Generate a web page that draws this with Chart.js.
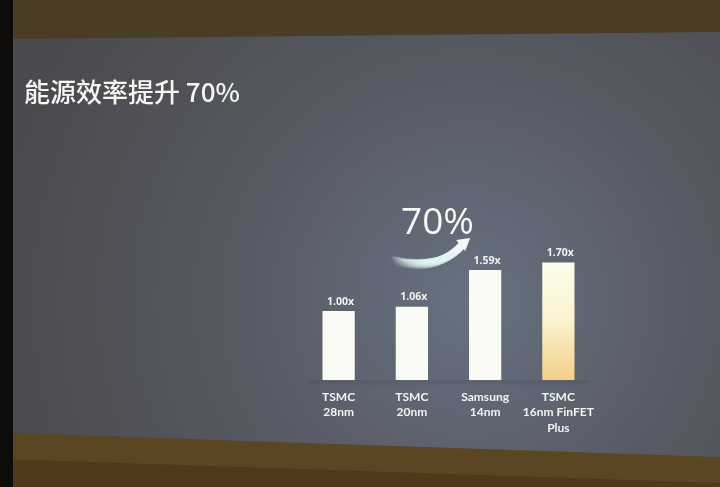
<!DOCTYPE html>
<html>
<head>
<meta charset="utf-8">
<title>能源效率提升 70%</title>
<script src="https://cdn.jsdelivr.net/npm/chart.js@4.4.0/dist/chart.umd.min.js"></script>
<style>
    html, body { margin: 0; padding: 0; background: #3f3424; }
    .chart-container { width: 720px; height: 487px; position: relative; }
</style>
</head>
<body>
<div class="chart-container">
    <canvas id="efficiencyChart"></canvas>
</div>
<script>
// --- Chart data ---
const slideTitle = '能源效率提升 70%';
const gainLabel = '70%';
const processNames = [
    ['TSMC', '28nm'],
    ['TSMC', '20nm'],
    ['Samsung', '14nm'],
    ['TSMC', '16nm FinFET', 'Plus']
];
const efficiency = [1.00, 1.06, 1.59, 1.70];
const valueLabels = ['1.00x', '1.06x', '1.59x', '1.70x'];

const ctx = document.getElementById('efficiencyChart').getContext('2d');

// --- Projected slide background (screen + frame around it) ---
const slideBackground = {
    id: 'slideBackground',
    beforeDraw(chart) {
        const c = chart.ctx;
        const w = chart.width, h = chart.height;
        c.save();
        // room / frame
        c.fillStyle = '#4a3d26';
        c.fillRect(0, 0, w, h);
        // bottom wall bands
        c.fillStyle = '#5a4623';
        c.beginPath();
        c.moveTo(0, 432); c.lineTo(w, 456); c.lineTo(w, h); c.lineTo(0, h);
        c.fill();
        c.fillStyle = '#4d3a1a';
        c.beginPath();
        c.moveTo(0, 459); c.lineTo(w, 483); c.lineTo(w, h); c.lineTo(0, h);
        c.fill();
        // black strip on the left
        c.fillStyle = '#0e0c0b';
        c.fillRect(0, 0, 13, h);

        // screen
        const g = c.createRadialGradient(470, 300, 10, 470, 300, 470);
        g.addColorStop(0, '#66707f');
        g.addColorStop(0.45, '#585b65');
        g.addColorStop(1, '#4b4a4e');
        c.fillStyle = g;
        c.beginPath();
        c.moveTo(13, 39);
        c.lineTo(w, 32);
        c.lineTo(w, 457);
        c.lineTo(13, 433);
        c.closePath();
        c.fill();

        // soft shadow under the bars
        const a = chart.chartArea;
        const sg = c.createLinearGradient(0, a.bottom, 0, a.bottom + 7);
        sg.addColorStop(0, 'rgba(50,55,65,0.18)');
        sg.addColorStop(1, 'rgba(50,55,65,0)');
        c.fillStyle = sg;
        c.fillRect(a.left + 5, a.bottom, a.right - a.left - 10, 7);

        // slide title
        c.fillStyle = '#f4f6f2';
        c.font = '500 26px "Noto Sans CJK TC", "Noto Sans CJK SC", sans-serif';
        c.textBaseline = 'alphabetic';
        c.textAlign = 'left';
        c.fillText(slideTitle, 24, 102);
        c.restore();
    }
};

// --- Value labels, growth arrow and 70% annotation ---
const annotations = {
    id: 'annotations',
    afterDatasetsDraw(chart) {
        const c = chart.ctx;
        const meta = chart.getDatasetMeta(0);
        c.save();
        c.fillStyle = '#f2f2f0';
        c.font = 'bold 10.5px "Open Sans", sans-serif';
        c.textAlign = 'center';
        c.textBaseline = 'bottom';
        meta.data.forEach((bar, i) => {
            c.fillText(valueLabels[i], bar.x + 2, bar.y - 4);
        });

        // curved arrow from the 20nm bar to the 14nm bar
        const b1 = meta.data[1], b2 = meta.data[2];
        const x0 = b1.x - 20, y0 = b1.y - 46;
        const x1 = b2.x - 17, y1 = b2.y - 31;
        const ag = c.createLinearGradient(x0, y0, x1, y1);
        ag.addColorStop(0, 'rgba(220,240,235,0)');
        ag.addColorStop(0.6, 'rgba(225,245,240,0.8)');
        ag.addColorStop(1, 'rgba(245,250,248,1)');
        c.strokeStyle = ag;
        c.lineCap = 'round';
        for (let k = 0; k < 7; k++) {
            c.lineWidth = 8 - k;
            c.beginPath();
            c.moveTo(x0, y0 - k * 0.7);
            c.quadraticCurveTo(x0 + 45, y0 + 13 - k, x1 - 5, y1 + 5);
            c.stroke();
        }
        c.fillStyle = '#f4f8f6';
        c.beginPath();
        c.moveTo(x1 + 2, y1 - 1);
        c.lineTo(x1 - 12, y1 + 1);
        c.lineTo(x1 - 3, y1 + 12);
        c.closePath();
        c.fill();

        // big 70%
        c.fillStyle = '#f6f6f4';
        c.font = '37px "Open Sans", sans-serif';
        c.textAlign = 'center';
        c.textBaseline = 'alphabetic';
        c.fillText(gainLabel, (b1.x + b2.x) / 2 - 11, y1 - 5);
        c.restore();
    }
};

// last bar gets a warm tint toward the bottom
function barColor(context) {
    const chart = context.chart;
    const area = chart.chartArea;
    if (!area) return '#fbfbf6';
    if (context.dataIndex === efficiency.length - 1) {
        const g = chart.ctx.createLinearGradient(0, area.top + 60, 0, area.bottom);
        g.addColorStop(0, '#fdfdef');
        g.addColorStop(0.5, '#fbf3cf');
        g.addColorStop(1, '#f3cf8a');
        return g;
    }
    return '#fbfbf6';
}

// --- Create the chart ---
const efficiencyChart = new Chart(ctx, {
    type: 'bar',
    data: {
        labels: processNames,
        datasets: [{
            label: 'Energy efficiency',
            data: efficiency,
            backgroundColor: barColor,
            borderWidth: 0,
            barPercentage: 0.44,
            categoryPercentage: 1.0
        }]
    },
    options: {
        responsive: true,
        maintainAspectRatio: false,
        animation: false,
        layout: {
            padding: { left: 302, right: 125, top: 200, bottom: 42 }
        },
        scales: {
            x: {
                grid: { display: false, drawTicks: false },
                border: { display: false },
                ticks: {
                    color: '#f4f4f2',
                    padding: 9,
                    autoSkip: false,
                    maxRotation: 0,
                    minRotation: 0,
                    font: { family: 'Lato, sans-serif', size: 12, weight: 'bold', lineHeight: 1.3 }
                }
            },
            y: {
                display: false,
                min: 0,
                max: 2.6
            }
        },
        plugins: {
            legend: { display: false },
            tooltip: { enabled: false }
        }
    },
    plugins: [slideBackground, annotations]
});
</script>
</body>
</html>
